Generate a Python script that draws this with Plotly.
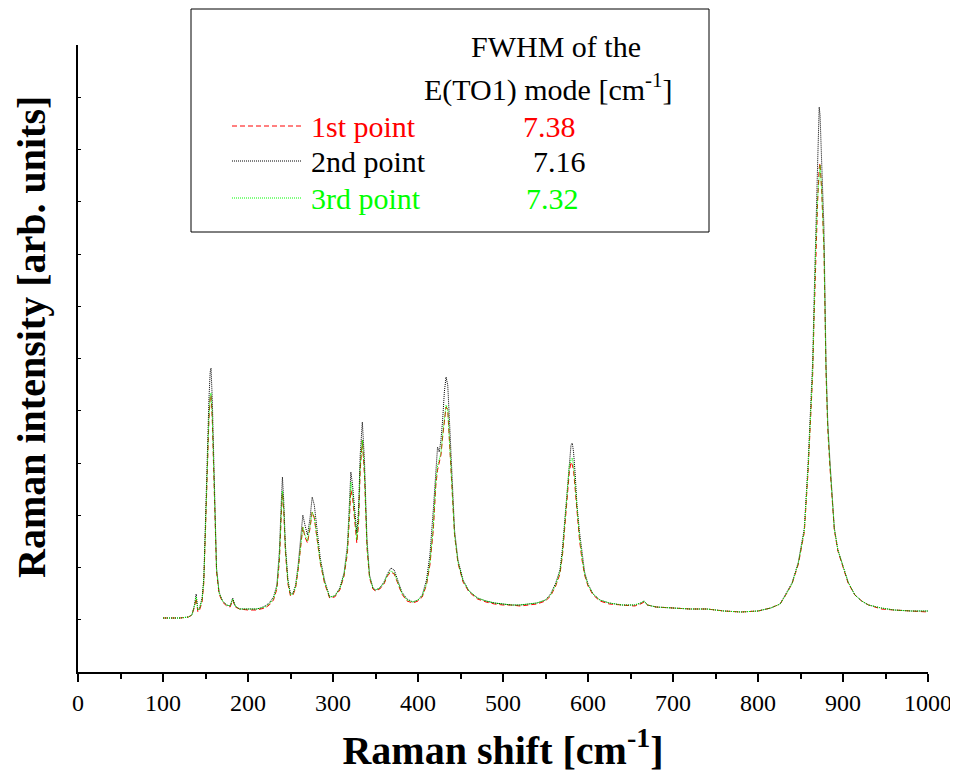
import plotly.graph_objects as go

# Raman shift grid (cm^-1)
raman_shift = [100, 110, 120, 130, 134, 137, 139, 141, 143, 146, 148, 150, 152, 154, 155.5, 156.5, 158, 159.5, 161, 163,
               166, 170, 175, 179, 182, 185, 190, 200, 210, 215, 220, 225, 230, 234, 237, 239, 240.5, 242, 244, 247,
               250, 253, 256, 259, 262, 264.5, 267, 270, 273, 275.5, 278, 281, 285, 290, 296, 302, 308, 313, 317, 319.5,
               321, 323, 326, 328, 330, 332, 334.5, 337, 340, 343, 347, 350, 355, 360, 364, 368, 372, 376, 381, 387,
               394, 400, 405, 410, 414, 418, 421, 423, 425, 427, 429, 431, 433, 435, 437, 440, 443, 447, 453, 460,
               470, 480, 490, 500, 510, 520, 530, 540, 550, 556, 562, 567, 570, 573, 576, 578, 580, 581.5, 583, 585,
               587, 590, 593, 596, 600, 606, 614, 625, 640, 655, 662, 666, 670, 680, 700, 720, 740, 760, 780, 800,
               815, 826, 832, 840, 847.5, 854.5, 859, 862, 864.3, 866, 867.8, 870.2, 872, 873, 874.9, 877.6, 880, 882, 884.7, 889.8,
               894, 898.4, 906, 914, 922, 930, 945, 960, 980, 1000]

# intensities (arb. units)
int_1st = [54, 54, 54, 55, 57, 65, 74, 60, 62, 70, 89, 142, 204, 252, 274, 277, 252, 207, 144, 100,
           78, 70, 66, 65, 72, 65, 63, 62, 62, 63, 64, 67, 72, 83, 112, 154, 179, 162, 120, 88,
           76, 77, 84, 102, 127, 145, 135, 129, 144, 160, 154, 134, 109, 89, 74, 75, 82, 96, 119, 157,
           182, 175, 147, 129, 147, 202, 232, 197, 124, 94, 83, 81, 83, 88, 96, 100, 98, 89, 78, 71,
           69, 71, 75, 87, 107, 142, 187, 202, 210, 217, 235, 252, 265, 262, 232, 182, 137, 109, 90, 80,
           73, 70, 68, 67, 67, 66, 67, 68, 71, 76, 86, 98, 117, 149, 180, 200, 210, 207, 202, 182,
           157, 132, 112, 97, 86, 77, 71, 68, 67, 66, 68, 70, 67, 65, 64, 63, 63, 61, 60, 61,
           64, 68, 76, 88, 108, 140, 202, 252, 297, 354, 417, 472, 504, 509, 482, 422, 300, 244, 204, 142,
           121, 109, 89, 77, 71, 67, 63, 62, 61, 60]

int_2nd = [54, 54, 54, 55, 57, 67, 78, 62, 64, 74, 94, 152, 217, 272, 300, 304, 272, 222, 152, 104,
           80, 71, 67, 66, 74, 66, 63, 63, 63, 64, 66, 69, 75, 87, 122, 167, 195, 172, 127, 92,
           78, 79, 87, 107, 137, 157, 147, 137, 154, 175, 167, 142, 114, 92, 75, 76, 84, 99, 127, 172,
           200, 187, 157, 139, 162, 217, 250, 212, 132, 97, 84, 82, 84, 90, 98, 104, 102, 92, 80, 73,
           70, 72, 77, 92, 117, 162, 207, 225, 220, 232, 252, 280, 295, 287, 252, 192, 142, 112, 92, 81,
           74, 71, 69, 68, 67, 67, 68, 69, 72, 78, 89, 102, 124, 157, 192, 214, 227, 229, 220, 197,
           167, 140, 117, 100, 88, 78, 72, 69, 67, 67, 69, 71, 67, 65, 64, 63, 63, 61, 60, 61,
           64, 68, 77, 89, 110, 144, 210, 262, 310, 372, 444, 510, 565, 557, 510, 444, 310, 252, 210, 144,
           122, 110, 90, 77, 71, 67, 64, 62, 61, 61]

int_3rd = [54, 54, 54, 55, 57, 66, 75, 62, 63, 72, 91, 144, 207, 254, 276, 279, 254, 210, 146, 102,
           79, 71, 67, 66, 73, 66, 63, 63, 63, 64, 65, 68, 73, 85, 115, 157, 181, 164, 122, 90,
           77, 78, 85, 103, 129, 145, 137, 131, 146, 160, 155, 135, 110, 90, 75, 76, 83, 97, 122, 162,
           190, 180, 150, 132, 152, 206, 232, 200, 126, 95, 84, 82, 84, 89, 97, 101, 99, 90, 79, 72,
           70, 72, 76, 88, 109, 145, 190, 206, 212, 219, 237, 254, 267, 263, 232, 182, 137, 110, 91, 81,
           74, 71, 69, 68, 67, 67, 68, 69, 72, 77, 87, 100, 119, 152, 184, 206, 212, 214, 206, 187,
           160, 135, 114, 98, 87, 78, 72, 69, 67, 67, 69, 71, 67, 65, 64, 63, 63, 61, 60, 61,
           64, 68, 76, 88, 109, 141, 204, 254, 300, 357, 422, 474, 502, 507, 482, 424, 302, 246, 206, 143,
           122, 110, 90, 77, 71, 67, 64, 62, 61, 61]

series_names = ["1st point", "2nd point", "3rd point"]
fwhm_values = ["7.38", "7.16", "7.32"]
x_ticks = [0, 100, 200, 300, 400, 500, 600, 700, 800, 900, 1000]

colors = ["#ff0000", "#000000", "#00ff00"]
dashes = ["5px,3px", "1px,1px", "1px,1px"]
FONT = "Liberation Serif, Times New Roman, serif"

fig = go.Figure()
for ys, name, col, dsh in zip([int_1st, int_2nd, int_3rd], series_names, colors, dashes):
    fig.add_trace(go.Scatter(x=raman_shift, y=ys, mode="lines", name=name,
                             line=dict(color=col, width=1, dash=dsh), showlegend=False))

# page body has an 8px margin: figure is 950x765 placed at (8, 8)
fig.update_layout(
    width=950, height=765,
    margin=dict(l=70, r=30, t=37, b=101, autoexpand=False),
    paper_bgcolor="white", plot_bgcolor="white",
    font=dict(family=FONT, color="black"),
)
fig.update_xaxes(
    range=[0, 1000], showgrid=False, zeroline=False, automargin=False,
    showline=True, linecolor="black", linewidth=2,
    ticks="outside", ticklen=8, tickwidth=2, tickcolor="black",
    tickvals=x_ticks, ticktext=[str(v) for v in x_ticks],
    tickfont=dict(family=FONT, size=24),
    minor=dict(ticks="outside", ticklen=5, tickwidth=2, tickcolor="black", dtick=50, tick0=0),
    title=dict(text="Raman shift [cm<sup>-1</sup>]", font=dict(family=FONT, size=40, weight="bold"), standoff=29),
)
fig.update_yaxes(
    range=[0, 627], showgrid=False, zeroline=False, automargin=False,
    showline=True, linecolor="black", linewidth=2,
    ticks="inside", ticklen=3, tickwidth=1, tickcolor="black",
    tick0=0, dtick=52.25, showticklabels=False,
)

# helpers: page pixels -> paper coords (plot area spans x 78..928, y 45..672 on the page)
def px_x(p):
    return (p - 78) / 850

def px_y(p):
    return (672 - p) / 627

# y-axis title (placed slightly above centre as in the reference)
fig.add_annotation(xref="paper", yref="paper", x=px_x(31), y=px_y(337), text="Raman intensity [arb. units]",
                   textangle=-90, showarrow=False, xanchor="center", yanchor="middle",
                   font=dict(family=FONT, size=40, weight="bold", color="black"))

# legend box
fig.add_shape(type="rect", xref="paper", yref="paper",
              x0=px_x(191), x1=px_x(709), y0=px_y(232), y1=px_y(9),
              line=dict(color="black", width=1), fillcolor="white", layer="above")

fig.add_annotation(xref="paper", yref="paper", x=px_x(556), y=px_y(46), text="FWHM of the",
                   showarrow=False, xanchor="center", yanchor="middle", font=dict(family=FONT, size=30, color="black"))
fig.add_annotation(xref="paper", yref="paper", x=px_x(548), y=px_y(88), text="E(TO1) mode [cm<sup>-1</sup>]",
                   showarrow=False, xanchor="center", yanchor="middle", font=dict(family=FONT, size=30, color="black"))

row_y = [126, 161, 198]
val_x = [521, 531, 524]
for name, val, col, dsh, ry, vx in zip(series_names, fwhm_values, colors, dashes, row_y, val_x):
    fig.add_shape(type="line", xref="paper", yref="paper",
                  x0=px_x(232), x1=px_x(301), y0=px_y(ry), y1=px_y(ry),
                  line=dict(color=col, width=1, dash=dsh))
    fig.add_annotation(xref="paper", yref="paper", x=px_x(309), y=px_y(ry), text=name,
                       showarrow=False, xanchor="left", yanchor="middle", font=dict(family=FONT, size=30, color=col))
    fig.add_annotation(xref="paper", yref="paper", x=px_x(vx), y=px_y(ry), text=val,
                       showarrow=False, xanchor="left", yanchor="middle", font=dict(family=FONT, size=30, color=col))

fig.write_html("out.html")
